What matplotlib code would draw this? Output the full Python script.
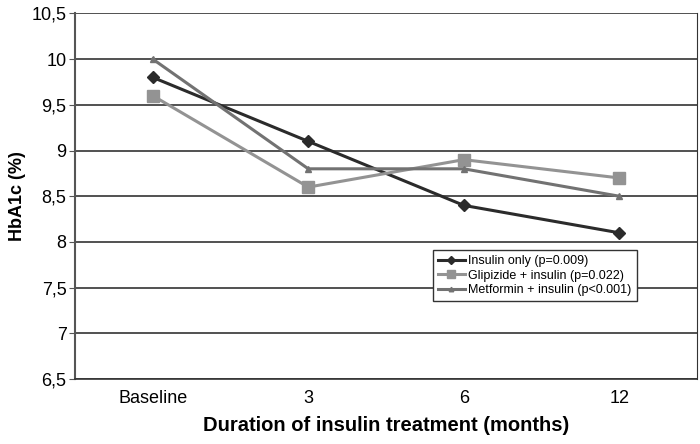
import matplotlib
matplotlib.use("Agg")
import matplotlib.pyplot as plt

plt.rcParams['font.family'] = ['Liberation Sans', 'DejaVu Sans']

categories = ["Baseline", "3", "6", "12"]
insulin_only = [9.8, 9.1, 8.4, 8.1]
glipizide = [9.6, 8.6, 8.9, 8.7]
metformin = [10.0, 8.8, 8.8, 8.5]
yticks = [6.5, 7, 7.5, 8, 8.5, 9, 9.5, 10, 10.5]
ytick_labels = ["6,5", "7", "7,5", "8", "8,5", "9", "9,5", "10", "10,5"]

fig = plt.figure(figsize=(7, 4.44), dpi=100)
ax = fig.add_axes([0.107, 0.146, 0.889, 0.824])
x = list(range(len(categories)))

ax.plot(x, insulin_only, color="#2b2b2b", lw=2.2, marker="D", ms=6, label="Insulin only (p=0.009)")
ax.plot(x, glipizide, color="#939393", lw=2.2, marker="s", ms=8, label="Glipizide + insulin (p=0.022)")
ax.plot(x, metformin, color="#727272", lw=2.2, marker="^", ms=5, label="Metformin + insulin (p<0.001)")

ax.set_xlim(-0.5, 3.5)
ax.set_ylim(6.5, 10.5)
ax.set_xticks(x)
ax.set_xticklabels(categories, fontsize=13)
ax.set_yticks(yticks)
ax.set_yticklabels(ytick_labels, fontsize=13)
ax.yaxis.grid(True, color="#333333", lw=1.2)
ax.set_axisbelow(True)
ax.tick_params(axis='x', length=0, pad=8)
ax.tick_params(axis='y', length=4, color="#555555", pad=2)
ax.spines["top"].set_visible(False)
ax.spines["left"].set_color("#555555")
ax.spines["left"].set_linewidth(1.5)
ax.spines["right"].set_color("#333333")
ax.spines["bottom"].set_color("#333333")
ax.spines["bottom"].set_linewidth(1.2)

ax.set_xlabel("Duration of insulin treatment (months)", fontsize=14.5, fontweight="bold", labelpad=6)
ax.set_ylabel("HbA1c (%)", fontsize=13, fontweight="bold", labelpad=4)

leg = ax.legend(loc="upper left", bbox_to_anchor=(0.566, 0.37), fontsize=9, frameon=True,
                fancybox=False, edgecolor="#333333", framealpha=1, borderpad=0.4,
                labelspacing=0.2, handlelength=2.1, handletextpad=0.3, markerscale=0.65)
leg.get_frame().set_linewidth(1.0)

fig.savefig("out.png", dpi=100)
